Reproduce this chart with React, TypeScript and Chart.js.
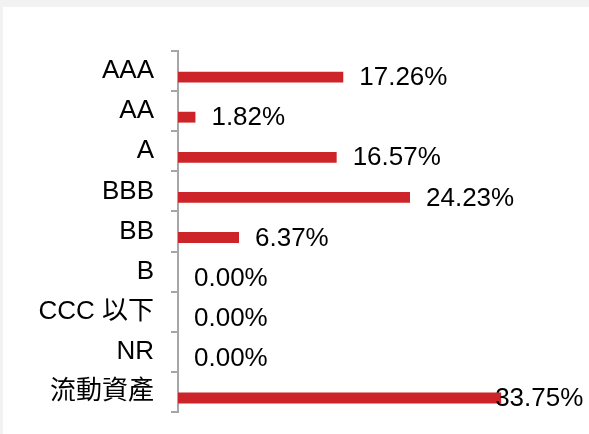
import React, { useEffect, useRef } from "react";
import { Chart, registerables } from "chart.js";

Chart.register(...registerables);

const categories = ["AAA", "AA", "A", "BBB", "BB", "B", "CCC 以下", "NR", "流動資產"];
const values = [17.26, 1.82, 16.57, 24.23, 6.37, 0.0, 0.0, 0.0, 33.75];
const hiddenValues = [null, null, null, null, null, null, null, null, null];
const labelOffsets = [16, 16, 16, 16, 16, 16, 16, 16, -6];

const FONT = '"Liberation Sans", Arial, "Noto Sans CJK TC", sans-serif';

const valueLabels = {
  id: "valueLabels",
  afterDatasetsDraw(chart: any) {
    const meta = chart.getDatasetMeta(1);
    const ctx = chart.ctx;
    ctx.save();
    ctx.font = `26px ${FONT}`;
    ctx.fillStyle = "#000000";
    ctx.textAlign = "left";
    ctx.textBaseline = "middle";
    meta.data.forEach((el: any, i: number) => {
      const v = values[i];
      ctx.fillText(v.toFixed(2) + "%", el.x + labelOffsets[i], el.y + 1);
    });
    ctx.restore();
  },
};

export default function App() {
  const ref = useRef<HTMLCanvasElement | null>(null);
  useEffect(() => {
    if (!ref.current) return;
    const chart = new Chart(ref.current, {
      type: "bar",
      data: {
        labels: categories,
        datasets: [
          { label: "", data: hiddenValues as any, backgroundColor: "rgba(0,0,0,0)" },
          { label: "比重", data: values, backgroundColor: "#cc2428" },
        ],
      },
      options: {
        indexAxis: "y",
        animation: false,
        responsive: false,
        devicePixelRatio: 1,
        layout: { padding: { left: 0, top: 44, bottom: 22, right: 28 } },
        plugins: { legend: { display: false }, tooltip: { enabled: false } },
        datasets: { bar: { categoryPercentage: 0.6, barPercentage: 0.9 } },
        scales: {
          x: { display: false, min: 0, max: 40 },
          y: {
            afterFit: (s: any) => {
              s.width = 175;
              s.paddingTop = 0;
              s.paddingBottom = 0;
            },
            border: { display: true, color: "#a6a6a6", width: 2 },
            grid: {
              display: true,
              drawOnChartArea: false,
              drawTicks: true,
              tickLength: 7,
              offset: true,
              color: "#a6a6a6",
              lineWidth: 2,
            },
            ticks: {
              padding: 17,
              color: "#000000",
              font: { size: 26, family: FONT },
            },
          },
        },
      },
      plugins: [valueLabels],
    });
    return () => chart.destroy();
  }, []);
  return (
    <div style={{ position: "fixed", inset: 0, background: "#f2f2f2" }}>
      <div style={{ position: "absolute", left: 3, top: 7, width: 586, height: 427, background: "#ffffff" }}>
        <canvas ref={ref} width={586} height={427} style={{ width: 586, height: 427, display: "block" }} />
      </div>
    </div>
  );
}
